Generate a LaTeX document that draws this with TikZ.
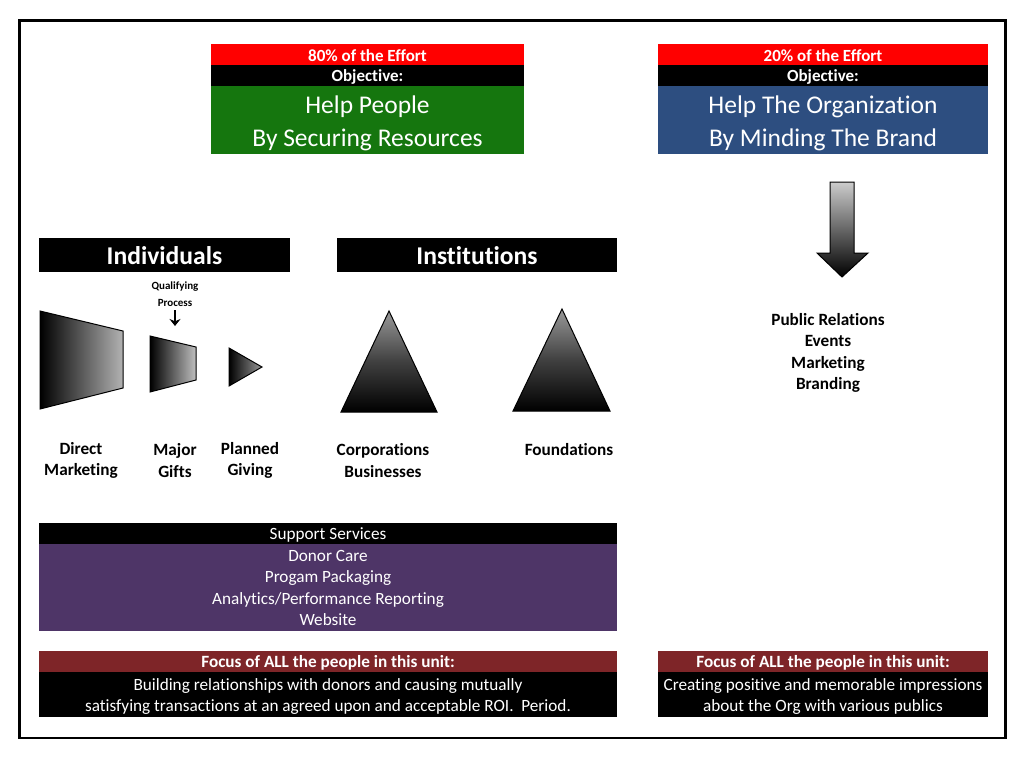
\documentclass[tikz,border=0pt]{standalone}
\usepackage{fontspec}
\setmainfont{Carlito}[Ligatures={NoCommon}]
\usetikzlibrary{arrows.meta}
\definecolor{effred}{HTML}{FF0000}
\definecolor{effgreen}{HTML}{15760E}
\definecolor{effblue}{HTML}{2D4E80}
\definecolor{svcpurple}{HTML}{4E3567}
\definecolor{focred}{HTML}{7E2528}
\tikzset{
  bar/.style={anchor=north west, inner sep=0pt, outer sep=0pt},
  wtxt/.style={inner sep=0pt, text=white, align=center},
  lbl/.style={font=\fontsize{17.2}{21.3}\selectfont\bfseries, align=center, inner sep=0pt},
  shp/.style={draw=black, line width=1pt},
}
\newcommand{\fs}[2]{\fontsize{#1}{#2}\selectfont}
\begin{document}
\begin{tikzpicture}[x=1pt,y=-1pt]
\useasboundingbox (0,0) rectangle (1024,761);
\fill[white] (0,0) rectangle (1024,761);
\draw[line width=2.5pt] (19.5,20.5) rectangle (1005.5,738);

% ---- top left block
\node[bar, fill=effred, minimum width=313pt, minimum height=21pt] (r1) at (211,44) {};
\node[bar, fill=black, minimum width=313pt, minimum height=21pt] (o1) at (211,65) {};
\node[bar, fill=effgreen, minimum width=313pt, minimum height=68pt] (g1) at (211,86) {};
\node[wtxt, font=\fs{17}{19}\bfseries] (r1t) at ([yshift=-1pt]r1.center) {80\% of the Effort};
\node[wtxt, font=\fs{17}{19}\bfseries] (o1t) at ([yshift=-1pt]o1.center) {Objective:};
\node[wtxt, font=\fs{25.5}{33}] (g1t) at ([yshift=-3pt]g1.center) {Help People\\By Securing Resources};

% ---- top right block
\node[bar, fill=effred, minimum width=330pt, minimum height=21pt] (r2) at (658,44) {};
\node[bar, fill=black, minimum width=330pt, minimum height=21pt] (o2) at (658,65) {};
\node[bar, fill=effblue, minimum width=330pt, minimum height=68pt] (b2) at (658,86) {};
\node[wtxt, font=\fs{17}{19}\bfseries] (r2t) at ([yshift=-1pt]r2.center) {20\% of the Effort};
\node[wtxt, font=\fs{17}{19}\bfseries] (o2t) at ([yshift=-1pt]o2.center) {Objective:};
\node[wtxt, font=\fs{25.5}{33}] (b2t) at ([yshift=-3pt]b2.center) {Help The Organization\\By Minding The Brand};

% ---- headers
\node[bar, fill=black, minimum width=251pt, minimum height=34pt] (ind) at (39,238) {};
\node[bar, fill=black, minimum width=280pt, minimum height=34pt] (ins) at (337,238) {};
\node[wtxt, font=\fs{25.6}{28}\bfseries] (indt) at ([yshift=-1pt]ind.center) {Individuals};
\node[wtxt, font=\fs{25.6}{28}\bfseries] (inst) at ([yshift=-0.5pt]ins.center) {Institutions};

% ---- funnel shapes
\shade[shp, left color=black, right color=black!30] (40,311) -- (123,331) -- (123,388) -- (40,409) -- cycle;
\shade[shp, left color=black, right color=black!25] (150,336) -- (196,347) -- (196,380) -- (150,392) -- cycle;
\shade[shp, left color=black, right color=black!40] (229,348) -- (262,367) -- (229,386) -- cycle;

\node[font=\fs{11}{17}\bfseries, align=center, inner sep=0pt] (qp) at (175,294) {Qualifying\\Process};
\coordinate (qa) at (175,310);
\coordinate (qb) at (175,326);
\draw[line width=2.2pt, -{Stealth[length=7pt,width=11pt]}] (qa) -- (qb);

% ---- triangles
\shade[shp, top color=black!40, bottom color=black, middle color=black!75] (389,311) -- (437,412) -- (341,412) -- cycle;
\shade[shp, top color=black!40, bottom color=black, middle color=black!75] (562,309) -- (610,411) -- (513,411) -- cycle;

% ---- labels
\node[lbl] (dm) at (81,460.5) {Direct\\Marketing};
\node[lbl] (mg) at (175,460.5) {Major\\Gifts};
\node[lbl] (pg) at (250,460.5) {Planned\\Giving};
\node[lbl] (cb) at (383,460.5) {Corporations\\Businesses};
\node[lbl] (fd) at (569,450) {Foundations};

% ---- big arrow
\shade[shp, top color=black!20, bottom color=black] (830,182) -- (854,182) -- (854,253) -- (868,253) -- (842,277) -- (817,253) -- (830,253) -- cycle;

\node[lbl] (pr) at (828,353) {Public Relations\\Events\\Marketing\\Branding};

% ---- support services
\node[bar, fill=black, minimum width=578pt, minimum height=21pt] (ss) at (39,523) {};
\node[bar, fill=svcpurple, minimum width=578pt, minimum height=87pt] (sv) at (39,544) {};
\node[wtxt, font=\fs{17.2}{19}] (sst) at ([yshift=-1pt]ss.center) {Support Services};
\node[wtxt, font=\fs{17.2}{21.5}] (svt) at ([yshift=-0.5pt]sv.center) {Donor Care\\Progam Packaging\\Analytics/Performance Reporting\\Website};

% ---- focus boxes
\node[bar, fill=focred, minimum width=578pt, minimum height=21pt] (f1) at (39,651) {};
\node[bar, fill=black, minimum width=578pt, minimum height=45pt] (t1) at (39,672) {};
\node[wtxt, font=\fs{17.2}{19}\bfseries] (f1t) at ([yshift=-1pt]f1.center) {Focus of ALL the people in this unit:};
\node[wtxt, font=\fs{17.2}{21}] (t1t) at ([yshift=-2pt]t1.center) {Building relationships with donors and causing mutually\\satisfying transactions at an agreed upon and acceptable ROI.\ \ Period.};
\node[bar, fill=focred, minimum width=330pt, minimum height=21pt] (f2) at (658,651) {};
\node[bar, fill=black, minimum width=330pt, minimum height=45pt] (t2) at (658,672) {};
\node[wtxt, font=\fs{17.2}{19}\bfseries] (f2t) at ([yshift=-1pt]f2.center) {Focus of ALL the people in this unit:};
\node[wtxt, font=\fs{17.2}{21}] (t2t) at ([yshift=-2pt]t2.center) {Creating positive and memorable impressions\\about the Org with various publics};
\end{tikzpicture}
\end{document}
